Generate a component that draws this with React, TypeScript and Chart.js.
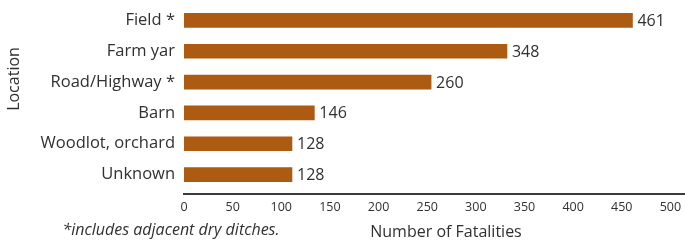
import React, { useEffect, useRef } from "react";
import { Chart, registerables } from "chart.js";

Chart.register(...registerables);

const categories = ["Field *", "Farm yar", "Road/Highway *", "Barn", "Woodlot, orchard", "Unknown"];
// values printed next to the bars
const fatalities = [461, 348, 260, 146, 128, 128];
// bar lengths as drawn in the reference (read against its axis)
const barLengthsAsDrawn = [461, 332, 254, 134, 111, 111];
const xTickStep = 50;
const xTickMax = 500;
const yTitle = "Location";
const xTitle = "Number of Fatalities";
const footnote = "*includes adjacent dry ditches.";

const FONT = "'Open Sans', sans-serif";
const TEXT = "#303030";
const BAR = "#AD5B13";

export default function App() {
  const ref = useRef<HTMLCanvasElement | null>(null);

  useEffect(() => {
    if (!ref.current) return;
    const extras = {
      id: "extras",
      afterDatasetsDraw(chart: any) {
        const ctx = chart.ctx;
        const meta = chart.getDatasetMeta(0);
        const xs = chart.scales.x;
        const area = chart.chartArea;
        ctx.save();
        // axis line
        ctx.strokeStyle = "#3a3a3a";
        ctx.lineWidth = 2;
        ctx.beginPath();
        ctx.moveTo(xs.getPixelForValue(0) - 1, area.bottom + 4);
        ctx.lineTo(chart.width, area.bottom + 4);
        ctx.stroke();

        ctx.fillStyle = TEXT;
        ctx.font = `16px ${FONT}`;
        ctx.textBaseline = "middle";
        ctx.textAlign = "left";
        meta.data.forEach((bar: any, i: number) => {
          ctx.fillText(String(fatalities[i]), bar.x + 5, bar.y + 1);
        });
        // x title
        ctx.textAlign = "center";
        ctx.font = `16px ${FONT}`;
        ctx.fillText(xTitle, 446, 232);
        // footnote
        ctx.font = `italic 16px ${FONT}`;
        ctx.fillText(footnote, 171, 230);
        // y title
        ctx.font = `16px ${FONT}`;
        ctx.translate(14, 79);
        ctx.rotate(-Math.PI / 2);
        ctx.fillText(yTitle, 0, 0);
        ctx.restore();
      },
    };

    const chart = new Chart(ref.current, {
      type: "bar",
      data: {
        labels: categories,
        datasets: [
          {
            data: barLengthsAsDrawn,
            backgroundColor: BAR,
            borderWidth: 0,
            barThickness: 14,
          },
        ],
      },
      options: {
        indexAxis: "y",
        animation: false,
        responsive: true,
        maintainAspectRatio: false,
        layout: { padding: { top: 5, right: 0, left: 0, bottom: 0 } },
        plugins: {
          legend: { display: false },
          tooltip: { enabled: false },
        },
        scales: {
          x: {
            min: 0,
            max: 515,
            grid: { display: false, drawTicks: false },
            border: { display: false },
            ticks: {
              stepSize: xTickStep,
              color: TEXT,
              font: { family: FONT, size: 12.5 },
              padding: 10,
              maxRotation: 0,
              autoSkip: false,
            },
            afterBuildTicks(scale: any) {
              const t: any[] = [];
              for (let v = 0; v <= xTickMax; v += xTickStep) t.push({ value: v });
              scale.ticks = t;
            },
            afterFit(scale: any) {
              scale.height = 51;
              scale.paddingLeft = 0;
              scale.paddingRight = 0;
            },
          },
          y: {
            grid: { display: false, drawTicks: false },
            border: { display: false },
            ticks: {
              color: TEXT,
              font: { family: FONT, size: 16.5 },
              padding: 9,
              autoSkip: false,
            },
            afterFit(scale: any) {
              scale.width = 184;
              scale.paddingTop = 0;
              scale.paddingBottom = 0;
            },
          },
        },
      },
      plugins: [extras],
    });
    return () => chart.destroy();
  }, []);

  return (
    <div style={{ position: "absolute", left: 0, top: 0, width: 685, height: 241, background: "#fff" }}>
      <canvas ref={ref} />
    </div>
  );
}
